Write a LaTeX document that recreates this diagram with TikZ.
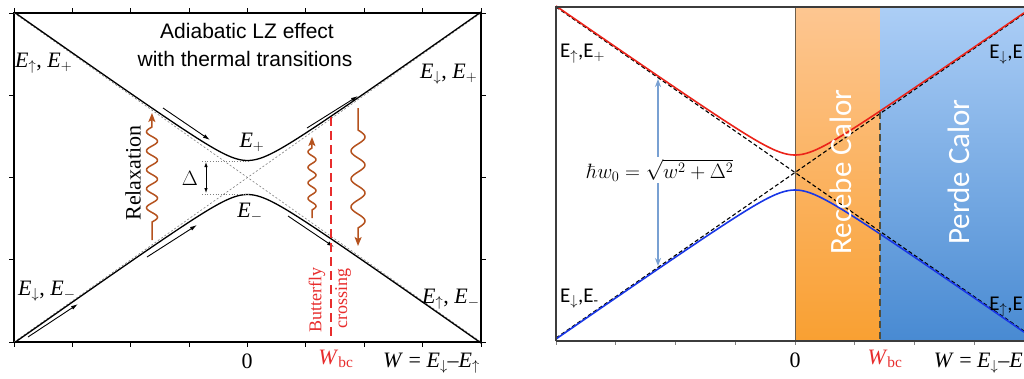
\documentclass[tikz,border=0pt]{standalone}
\usepackage[no-math]{fontspec}
\setmainfont{Liberation Serif}
\newfontfamily\arialf{Liberation Sans}
\newfontfamily\calf{Carlito}
\usetikzlibrary{arrows.meta}
\definecolor{wavebrown}{RGB}{181,82,30}
\definecolor{bcred}{RGB}{232,45,45}
\definecolor{orangeT}{RGB}{253,198,145}
\definecolor{orangeB}{RGB}{249,160,50}
\definecolor{blueT}{RGB}{172,206,246}
\definecolor{blueB}{RGB}{72,138,210}
\definecolor{steel}{RGB}{120,160,210}
\definecolor{pred}{RGB}{235,35,25}
\definecolor{pblue}{RGB}{25,55,230}
\definecolor{framegray}{RGB}{60,60,60}
\definecolor{darkolive}{RGB}{80,78,62}
\definecolor{zerobrown}{RGB}{110,95,75}
\tikzset{
  axisline/.style={line width=1.1pt, black},
  tickmark/.style={line width=0.9pt, black},
  curve/.style={line width=1.3pt, black},
  asym/.style={gray, dash pattern=on 2pt off 2pt, line width=0.6pt},
  flow/.style={line width=0.9pt, -{Latex[length=7pt,width=4pt]}},
  wave/.style={wavebrown, line width=1.5pt, -{Stealth[length=9pt,width=7pt,inset=2pt]}},
  lbl/.style={font=\fontsize{22}{26}\selectfont, inner sep=0pt},
  rlbl/.style={font=\calf\fontsize{21}{25}\selectfont, inner sep=0pt},
  big/.style={font=\calf\fontsize{31}{36}\selectfont, text=white, inner sep=0pt, rotate=90},
}
\begin{document}
\begin{tikzpicture}[x=1pt,y=-1pt]
\useasboundingbox (0,0) rectangle (1024,378);
\fill[white] (0,0) rectangle (1024,378);

% ================= LEFT PANEL =================
\foreach \i in {0,...,8} {
  \draw[tickmark] ({14+58.375*\i},13) -- ++(0,-5);
  \draw[tickmark] ({14+58.375*\i},342) -- ++(0,5);
}
\foreach \j in {0,...,4} {
  \draw[tickmark] (14,{13+82.25*\j}) -- ++(-5,0);
  \draw[tickmark] (481,{13+82.25*\j}) -- ++(5,0);
}
\draw[axisline] (14,13) rectangle (481,342);

\draw[asym] (14,13) -- (481,342);
\draw[asym] (14,342) -- (481,13);
\draw[curve] plot[domain=14:481, samples=160, smooth] (\x,{177.5-100*sqrt((0.00705*(\x-247.5))^2+0.0289)});
\draw[curve] plot[domain=14:481, samples=160, smooth] (\x,{177.5+100*sqrt((0.00705*(\x-247.5))^2+0.0289)});

% Delta gap
\draw[gray, dotted, line width=0.7pt] (202,161) -- (250,161);
\draw[gray, dotted, line width=0.7pt] (202,194) -- (250,194);
\draw[line width=0.8pt, {Latex[length=5pt,width=3.5pt]}-{Latex[length=5pt,width=3.5pt]}] (206,162) -- (206,193);
\node[lbl] (delta) at (190,178) {$\Delta$};

% flow arrows
\draw[flow] (163,108) -- (210,140);
\draw[flow] (307,128) -- (358,96);
\draw[flow] (147,257) -- (197,225);
\draw[flow] (28,337) -- (78,304);
\draw[flow] (288,216) -- (334,247);

% red butterfly line
\draw[bcred, line width=2pt, dash pattern=on 9pt off 5pt] (331,117) -- (331,340);

% waves
\draw[wave] (152,240) -- (152,222) -- plot[domain=0:1, samples=120, smooth] ({152+5.5*sin(360*5*\x)},{222-95*\x}) -- (152,113);
\draw[wave] (312,218) -- (312,210) -- plot[domain=0:1, samples=100, smooth] ({312+4*sin(360*4*\x)},{210-62*\x}) -- (312,137);
\draw[wave] (358,108) -- (358,130) -- plot[domain=0:1, samples=100, smooth] ({358+7*sin(360*3.5*\x)},{130+98*\x}) -- (358,246);

% texts
\node[font=\arialf\fontsize{21}{28}\selectfont, inner sep=0pt, anchor=base] (t1) at (247,38) {Adiabatic LZ effect};
\node[font=\arialf\fontsize{21}{28}\selectfont, inner sep=0pt, anchor=base] (t2) at (245,66) {with thermal transitions};
\node[lbl, anchor=base west] (lul) at (15,67) {\textit{E}$_\uparrow$, \textit{E}$_+$};
\node[lbl, anchor=base west] (lur) at (420,78) {\textit{E}$_\downarrow$, \textit{E}$_+$};
\node[lbl, anchor=base west] (lll) at (18,295) {\textit{E}$_\downarrow$, \textit{E}$_-$};
\node[lbl, anchor=base west] (llr) at (422,303) {\textit{E}$_\uparrow$, \textit{E}$_-$};
\node[lbl] (ep) at (252,142) {\textit{E}$_+$};
\node[lbl] (em) at (250,212) {\textit{E}$_-$};
\node[lbl, rotate=90] (relax) at (133,173) {Relaxation};
\node[font=\fontsize{18}{22}\selectfont, text=bcred, inner sep=0pt, rotate=90] (bf) at (317,300) {Butterfly};
\node[font=\fontsize{18}{22}\selectfont, text=bcred, inner sep=0pt, rotate=90] (cr) at (343,298) {crossing};
\node[lbl, anchor=base] (zl) at (247,368) {0};
\node[lbl, anchor=base, text=bcred] (wbl) at (336,364) {\textit{W}\textsubscript{bc}};
\node[lbl, anchor=base west] (wl) at (383,367) {\textit{W} = \textit{E}$_\downarrow$–\textit{E}$_\uparrow$};

% ================= RIGHT PANEL =================
\begin{scope}
\clip (540,0) rectangle (1024,378);
\shade[top color=orangeT, bottom color=orangeB] (795,8) rectangle (880,341);
\shade[top color=blueT, bottom color=blueB] (880,8) rectangle (1030,341);
\foreach \i in {0,...,8} {
  \draw[gray, line width=0.7pt] ({556+59.75*\i},341) -- ++(0,4);
}
\draw[zerobrown, line width=0.9pt] (795,8) -- (795,341);
\draw[black, line width=1.1pt, dash pattern=on 4pt off 2.5pt] (556,7) -- ({556+468},{7+468*0.6925});
\draw[black, line width=1.1pt, dash pattern=on 4pt off 2.5pt] (556,338) -- ({556+468},{338-468*0.6925});
\draw[pred, line width=1.6pt] plot[domain=556:1024, samples=160, smooth] (\x,{172.5-100*sqrt((0.00692*(\x-795))^2+0.030625)});
\draw[pblue, line width=1.6pt] plot[domain=556:1024, samples=160, smooth] (\x,{172.5+100*sqrt((0.00692*(\x-795))^2+0.030625)});
\draw[darkolive, line width=2pt, dash pattern=on 7pt off 4pt] (880,112) -- (880,341);
\draw[framegray, line width=1.5pt] (556,341) -- (556,7) -- (1030,7);
\draw[framegray, line width=1.2pt] (556,341) -- (1030,341);
\end{scope}

\draw[steel, line width=1.8pt, {Stealth[length=8pt,width=6pt]}-{Stealth[length=8pt,width=6pt]}] (658,79) -- (658,266);
\node[fill=white, inner xsep=1pt, inner ysep=2pt, font=\fontsize{22}{26}\selectfont, anchor=base] (formula) at (660,178) {$\hbar w_0=\sqrt{w^2+\Delta^2}$};

\node[big] (rec) at (841,172) {Recebe Calor};
\node[big] (per) at (959,172) {Perde Calor};

\node[rlbl, anchor=base west] (rul) at (560,57) {E$_\uparrow$,E$_+$};
\node[rlbl, anchor=base east] (rur) at (1023,58) {E$_\downarrow$,E};
\node[rlbl, anchor=base west] (rll) at (560,302) {E$_\downarrow$,E\textsubscript{-}};
\node[rlbl, anchor=base east] (rlr) at (1023,310) {E$_\uparrow$,E};
\node[lbl, anchor=base] (zr) at (795,367) {0};
\node[lbl, anchor=base, text=bcred] (wbr) at (885,364) {\textit{W}\textsubscript{bc}};
\node[lbl, anchor=base east] (wr) at (1023,367) {\textit{W} = \textit{E}$_\downarrow$–\textit{E}};
\end{tikzpicture}
\end{document}
